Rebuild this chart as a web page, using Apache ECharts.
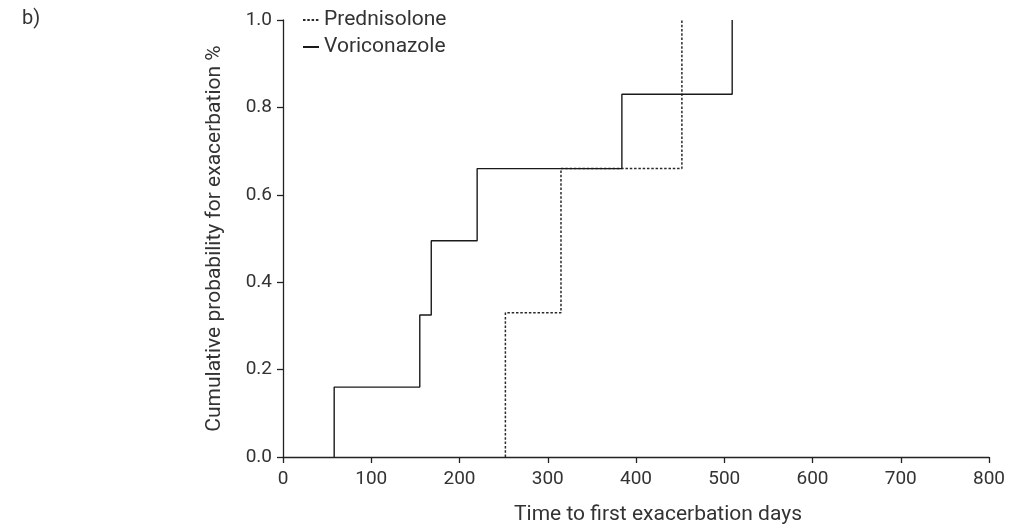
<!DOCTYPE html>
<html>
<head>
<meta charset="utf-8">
<script src="https://cdn.jsdelivr.net/npm/echarts@6/dist/echarts.min.js"></script>
<style>
html,body{margin:0;padding:0;background:#fff;}
#chart{width:1021px;height:530px;}
</style>
</head>
<body>
<div id="chart"></div>
<script>
// Data
const seriesNames = ['Prednisolone', 'Voriconazole'];
const predTimes = [252, 315, 452];
const predProbs = [0.33, 0.66, 1.0];
const voriTimes = [58, 155, 168, 220, 384, 509];
const voriProbs = [0.16, 0.325, 0.495, 0.66, 0.83, 1.0];
const xTicks = [0, 100, 200, 300, 400, 500, 600, 700, 800];
const yTicks = [0.0, 0.2, 0.4, 0.6, 0.8, 1.0];

function stepData(times, probs) {
  const out = [];
  let prev = 0;
  for (let i = 0; i < times.length; i++) {
    out.push([times[i], prev]);
    out.push([times[i], probs[i]]);
    if (i + 1 < times.length) out.push([times[i + 1], probs[i]]);
    prev = probs[i];
  }
  return out;
}

const FONT = 'Roboto';
const TXT = '#333';
const AX = '#222';

const chart = echarts.init(document.getElementById('chart'), null, {renderer: 'canvas'});
chart.setOption({
  animation: false,
  backgroundColor: '#fff',
  textStyle: {fontFamily: FONT, color: TXT},
  grid: {left: 283, right: 32, top: 20, bottom: 72},
  graphic: [{
    type: 'text', left: 22, top: 9,
    style: {text: 'b)', font: '20px ' + FONT, fill: TXT}
  }],
  legend: {
    orient: 'vertical', left: 302, top: 9, padding: 0,
    itemWidth: 16, itemHeight: 14, itemGap: 5,
    itemStyle: {opacity: 0},
    textStyle: {fontFamily: FONT, fontSize: 21, color: TXT, lineHeight: 22},
    data: seriesNames
  },
  xAxis: {
    type: 'value', min: xTicks[0], max: xTicks[xTicks.length - 1], interval: 100,
    name: 'Time to first exacerbation days',
    nameLocation: 'middle', nameGap: 47,
    nameTextStyle: {fontFamily: FONT, fontSize: 21, color: TXT, padding: [0, 0, 0, 44]},
    axisLine: {lineStyle: {color: AX, width: 1.3}},
    axisTick: {length: 6, lineStyle: {color: AX, width: 1.3}},
    axisLabel: {fontFamily: FONT, fontSize: 19, color: TXT, margin: 13},
    splitLine: {show: false}
  },
  yAxis: {
    type: 'value', min: yTicks[0], max: yTicks[yTicks.length - 1], interval: 0.2,
    name: 'Cumulative probability for exacerbation %',
    nameLocation: 'middle', nameGap: 58, nameRotate: 90,
    nameTextStyle: {fontFamily: FONT, fontSize: 21, color: TXT},
    axisLine: {show: true, lineStyle: {color: AX, width: 1.3}},
    axisTick: {show: true, length: 6, lineStyle: {color: AX, width: 1.3}},
    axisLabel: {fontFamily: FONT, fontSize: 19, color: TXT, margin: 11,
      formatter: v => v.toFixed(1)},
    splitLine: {show: false}
  },
  series: [
    {
      name: seriesNames[0], type: 'line', symbol: 'none',
      data: stepData(predTimes, predProbs),
      lineStyle: {color: '#2a2a2a', width: 1.5, type: [2.5, 1.8]},
      itemStyle: {color: '#2a2a2a'}, z: 2
    },
    {
      name: seriesNames[1], type: 'line', symbol: 'none',
      data: stepData(voriTimes, voriProbs),
      lineStyle: {color: '#1a1a1a', width: 1.4},
      itemStyle: {color: '#1a1a1a'}, z: 3
    }
  ]
});
</script>
</body>
</html>
